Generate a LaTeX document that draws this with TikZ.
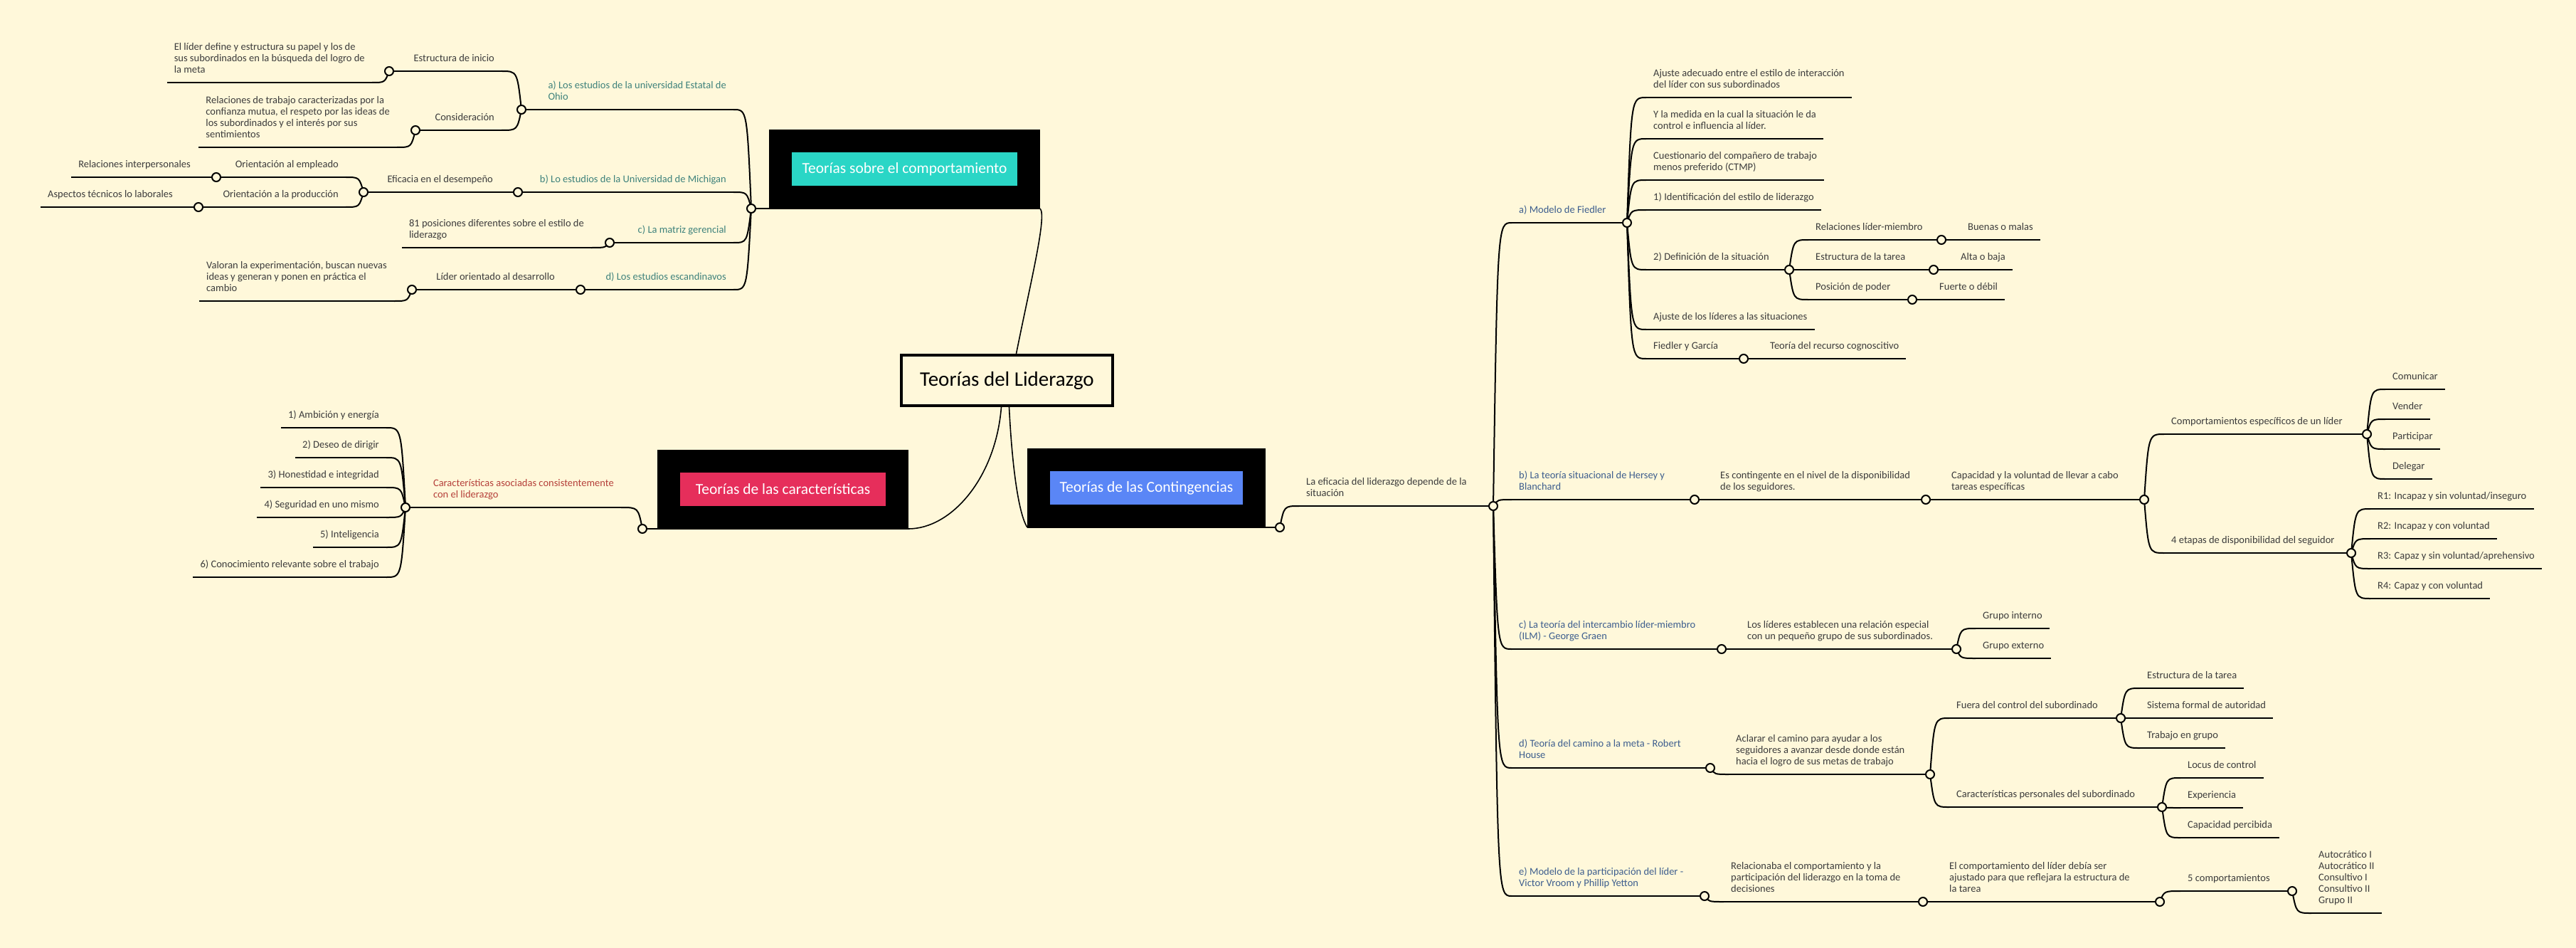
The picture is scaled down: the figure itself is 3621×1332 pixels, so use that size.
\documentclass[tikz,border=0pt]{standalone}
\usepackage{fontspec}
\setmainfont{Carlito}
\usetikzlibrary{calc}

\definecolor{paper}{HTML}{FFF8DA}
\definecolor{ink}{HTML}{3C3C3C}
\definecolor{tealtxt}{HTML}{3E827C}
\definecolor{bluetxt}{HTML}{3D5E8E}
\definecolor{redtxt}{HTML}{B5403A}
\definecolor{tealbox}{HTML}{2AD6C6}
\definecolor{redbox}{HTML}{E62E5B}
\definecolor{bluebox}{HTML}{5A86F6}

\begin{document}
\begin{tikzpicture}[x=1pt,y=1pt,
  topic/.style={font=\fontsize{14.5}{16}\selectfont,text=ink,align=left,inner xsep=10pt,inner ysep=10pt,text depth=3pt},
  rt/.style={topic,anchor=south west},
  lt/.style={topic,anchor=south east},
  knob/.style={draw,circle,line width=2pt,fill=paper,inner sep=0,minimum size=12pt},
  bar/.style={line width=2.2pt},
  branch/.style={line width=2pt,to path={.. controls ($(\tikztostart |- \tikztotarget)!6pt!(\tikztotarget)$) .. (\tikztotarget) \tikztonodes}},
  trunk/.style={line width=1.6pt},
  maintopic/.style={draw=black,line width=32pt,fill=#1,text=white,font=\fontsize{21.5}{24}\selectfont,inner sep=0,minimum height=79pt},
  central/.style={draw=black,line width=4pt,fill=paper,font=\fontsize{29}{32}\selectfont,minimum width=297pt,minimum height=71pt}]
\fill[paper] (0,0) rectangle (3621,-1332);
\useasboundingbox (0,0) rectangle (3621,-1332);

% centre and the three theories
\node[central] (root) at (1415.5,-534.5) {Teorías del Liderazgo};
\node[maintopic=tealbox,minimum width=349pt,anchor=south east] (behav) at (1462,-293) {Teorías sobre el comportamiento};
\node[maintopic=redbox,minimum width=321pt,anchor=south east] (chars) at (1277,-743) {Teorías de las características};
\node[maintopic=bluebox,minimum width=303pt,anchor=south west] (conti) at (1444,-741) {Teorías de las Contingencias};
\coordinate (kbehav) at (1056,-293);
\coordinate (kchars) at (903,-743);
\coordinate (kconti) at (1799,-741);

% comportamiento
\node[lt,text=tealtxt] (ohio) at (1031,-154) {a) Los estudios de la universidad Estatal de\\Ohio};
\node[lt,text=tealtxt] (mich) at (1031,-270) {b) Lo estudios de la Universidad de Michigan};
\node[lt,text=tealtxt] (grid) at (1031,-341) {c) La matriz gerencial};
\node[lt,text=tealtxt] (scan) at (1031,-407) {d) Los estudios escandinavos};
\coordinate (kohio) at (733,-154);
\coordinate (kmich) at (728,-270);
\coordinate (kgrid) at (857,-341);
\coordinate (kscan) at (816,-407);
\node[lt] (init) at (705,-100) {Estructura de inicio};
\node[lt] (initx) at (523,-116) {El líder define y estructura su papel y los de\\sus subordinados en la búsqueda del logro de\\la meta};
\node[lt] (cons) at (705,-183) {Consideración};
\node[lt] (consx) at (558,-207) {Relaciones de trabajo caracterizadas por la\\confianza mutua, el respeto por las ideas de\\los subordinados y el interés por sus\\sentimientos};
\coordinate (kinit) at (547,-100);
\coordinate (kcons) at (584,-183);
\node[lt] (perf) at (703,-270) {Eficacia en el desempeño};
\coordinate (kperf) at (511,-270);
\node[lt] (empl) at (486,-249) {Orientación al empleado};
\node[lt] (prod) at (486,-291) {Orientación a la producción};
\coordinate (kempl) at (304,-249);
\coordinate (kprod) at (279,-291);
\node[lt] (inter) at (278,-249) {Relaciones interpersonales};
\node[lt] (tech) at (253,-291) {Aspectos técnicos lo laborales};
\node[lt] (pos) at (831,-348) {81 posiciones diferentes sobre el estilo de\\liderazgo};
\node[lt] (devl) at (790,-407) {Líder orientado al desarrollo};
\coordinate (kdevl) at (579,-407);
\node[lt] (devx) at (554,-423) {Valoran la experimentación, buscan nuevas\\ideas y generan y ponen en práctica el\\cambio};

% caracteristicas
\node[lt,text=redtxt] (assoc) at (873,-713) {Características asociadas consistentemente\\con el liderazgo};
\coordinate (kassoc) at (570,-713);
\foreach \n/\y/\txt in {t1/601/1) Ambición y energía, t2/643/2) Deseo de dirigir, t3/685/3) Honestidad e integridad,
    t4/727/4) Seguridad en uno mismo, t5/769/5) Inteligencia, t6/811/6) Conocimiento relevante sobre el trabajo}
  \node[lt] (\n) at (543,-\y) {\txt};

% contingencias
\node[rt] (eff) at (1826,-711) {La eficacia del liderazgo depende de la\\situación};
\coordinate (keff) at (2099,-711);
\node[rt,text=bluetxt] (fied) at (2125,-313) {a) Modelo de Fiedler};
\node[rt,text=bluetxt] (hers) at (2125,-702) {b) La teoría situacional de Hersey y\\Blanchard};
\node[rt,text=bluetxt] (lmx) at (2125,-912) {c) La teoría del intercambio líder-miembro\\(ILM) - George Graen};
\node[rt,text=bluetxt] (goal) at (2125,-1079) {d) Teoría del camino a la meta - Robert\\House};
\node[rt,text=bluetxt] (vroom) at (2125,-1259) {e) Modelo de la participación del líder -\\Victor Vroom y Phillip Yetton};
\coordinate (kfied) at (2287,-313);
\coordinate (khers) at (2382,-702);
\coordinate (klmx) at (2420,-912);
\coordinate (kgoal) at (2404,-1079);
\coordinate (kvroom) at (2396,-1259);

% Fiedler
\node[rt] (fa) at (2314,-137) {Ajuste adecuado entre el estilo de interacción\\del líder con sus subordinados};
\node[rt] (fb) at (2314,-195) {Y la medida en la cual la situación le da\\control e influencia al líder.};
\node[rt] (fc) at (2314,-253) {Cuestionario del compañero de trabajo\\menos preferido (CTMP)};
\node[rt] (fd) at (2314,-295) {1) Identificación del estilo de liderazgo};
\node[rt] (fe) at (2314,-379) {2) Definición de la situación};
\node[rt] (ff) at (2314,-463) {Ajuste de los líderes a las situaciones};
\node[rt] (fg) at (2314,-504) {Fiedler y García};
\coordinate (kfe) at (2515,-379);
\coordinate (kfg) at (2451,-504);
\node[rt] (rel) at (2542,-337) {Relaciones líder-miembro};
\node[rt] (task) at (2542,-379) {Estructura de la tarea};
\node[rt] (power) at (2542,-421) {Posición de poder};
\coordinate (krel) at (2729,-337);
\coordinate (ktask) at (2718,-379);
\coordinate (kpower) at (2688,-421);
\node[rt] (good) at (2756,-337) {Buenas o malas};
\node[rt] (high) at (2746,-379) {Alta o baja};
\node[rt] (strong) at (2716,-421) {Fuerte o débil};
\node[rt] (cogn) at (2478,-504) {Teoría del recurso cognoscitivo};

% Hersey y Blanchard
\node[rt] (cont) at (2408,-702) {Es contingente en el nivel de la disponibilidad\\de los seguidores.};
\coordinate (kcont) at (2707,-702);
\node[rt] (will) at (2733,-702) {Capacidad y la voluntad de llevar a cabo\\tareas específicas};
\coordinate (kwill) at (3014,-702);
\node[rt] (beh) at (3042,-610) {Comportamientos específicos de un líder};
\coordinate (kbeh) at (3327,-610);
\node[rt] (stage) at (3042,-777) {4 etapas de disponibilidad del seguidor};
\coordinate (kstage) at (3305,-777);
\foreach \n/\y/\txt in {tell/547/Comunicar, sell/589/Vender, part/631/Participar, dele/673/Delegar}
  \node[rt] (\n) at (3353,-\y) {\txt};
\node[rt] (r1) at (3332,-715) {R1: Incapaz y sin voluntad/inseguro};
\node[rt] (r2) at (3332,-757) {R2: Incapaz y con voluntad};
\node[rt] (r3) at (3332,-799) {R3: Capaz y sin voluntad/aprehensivo};
\node[rt] (r4) at (3332,-841) {R4: Capaz y con voluntad};

% lider-miembro
\node[rt] (spec) at (2446,-912) {Los líderes establecen una relación especial\\con un pequeño grupo de sus subordinados.};
\coordinate (kspec) at (2750,-912);
\node[rt] (ingr) at (2777,-883) {Grupo interno};
\node[rt] (outgr) at (2777,-925) {Grupo externo};

% camino a la meta
\node[rt] (clar) at (2430,-1088) {Aclarar el camino para ayudar a los\\seguidores a avanzar desde donde están\\hacia el logro de sus metas de trabajo};
\coordinate (kclar) at (2713,-1088);
\node[rt] (env) at (2740,-1009) {Fuera del control del subordinado};
\coordinate (kenv) at (2981,-1009);
\node[rt] (pers) at (2740,-1134) {Características personales del subordinado};
\coordinate (kpers) at (3039,-1134);
\foreach \n/\y/\txt in {ea/967/Estructura de la tarea, eb/1009/Sistema formal de autoridad, ec/1051/Trabajo en grupo}
  \node[rt] (\n) at (3008,-\y) {\txt};
\foreach \n/\y/\txt in {pa/1093/Locus de control, pb/1135/Experiencia, pc/1177/Capacidad percibida}
  \node[rt] (\n) at (3065,-\y) {\txt};

% Vroom y Yetton
\node[rt] (dec) at (2423,-1267) {Relacionaba el comportamiento y la\\participación del liderazgo en la toma de\\decisiones};
\coordinate (kdec) at (2703,-1267);
\node[rt] (adj) at (2730,-1267) {El comportamiento del líder debía ser\\ajustado para que reflejara la estructura de\\la tarea};
\coordinate (kadj) at (3036,-1267);
\node[rt] (five) at (3065,-1252) {5 comportamientos};
\coordinate (kfive) at (3222,-1252);
\node[rt] (styles) at (3249,-1283) {Autocrático I\\Autocrático II\\Consultivo I\\Consultivo II\\Grupo II};

% connectors
\draw[trunk] ([xshift=13pt]root.north) .. controls +(20,100) and +(10,-10) .. (behav.south east);
\draw[trunk] ([xshift=-8pt]root.south) .. controls +(-8,-100) and +(60,0) .. (chars.south east);
\draw[trunk] ([xshift=3pt]root.south) .. controls +(5,-100) and +(-10,15) .. (conti.south west);
\draw[bar] (behav.south east) -- (kbehav);
\draw[bar] (chars.south east) -- (kchars);
\draw[bar] (conti.south west) -- (kconti);
\foreach \p/\c in {behav/ohio,behav/mich,behav/grid,behav/scan,ohio/init,ohio/cons,init/initx,cons/consx,
    mich/perf,perf/empl,perf/prod,empl/inter,prod/tech,grid/pos,scan/devl,devl/devx,
    chars/assoc,assoc/t1,assoc/t2,assoc/t3,assoc/t4,assoc/t5,assoc/t6}
  \draw[branch] (k\p) to (\c.south east);
\foreach \n in {initx,consx,inter,tech,pos,devx,t1,t2,t3,t4,t5,t6}
  \draw[bar] (\n.south west) -- (\n.south east);
\foreach \n in {ohio,mich,grid,scan,init,cons,perf,empl,prod,devl,assoc}
  \draw[bar] (\n.south east) -- (k\n);
\foreach \p/\c in {conti/eff,eff/fied,eff/hers,eff/lmx,eff/goal,eff/vroom,
    fied/fa,fied/fb,fied/fc,fied/fd,fied/fe,fied/ff,fied/fg,fe/rel,fe/task,fe/power,rel/good,task/high,power/strong,fg/cogn,
    hers/cont,cont/will,will/beh,will/stage,beh/tell,beh/sell,beh/part,beh/dele,stage/r1,stage/r2,stage/r3,stage/r4,
    lmx/spec,spec/ingr,spec/outgr,goal/clar,clar/env,clar/pers,env/ea,env/eb,env/ec,pers/pa,pers/pb,pers/pc,
    vroom/dec,dec/adj,adj/five,five/styles}
  \draw[branch] (k\p) to (\c.south west);
\foreach \n in {fa,fb,fc,fd,ff,good,high,strong,cogn,tell,sell,part,dele,r1,r2,r3,r4,ingr,outgr,ea,eb,ec,pa,pb,pc,styles}
  \draw[bar] (\n.south west) -- (\n.south east);
\foreach \n in {eff,fied,hers,lmx,goal,vroom,fe,fg,rel,task,power,cont,will,beh,stage,spec,clar,env,pers,dec,adj,five}
  \draw[bar] (\n.south west) -- (k\n);

% knobs
\foreach \n in {behav,chars,conti,ohio,mich,grid,scan,init,cons,perf,empl,prod,devl,assoc,
    eff,fied,hers,lmx,goal,vroom,fe,fg,rel,task,power,cont,will,beh,stage,spec,clar,env,pers,dec,adj,five}
  \node[knob] at (k\n) {};
\end{tikzpicture}
\end{document}
